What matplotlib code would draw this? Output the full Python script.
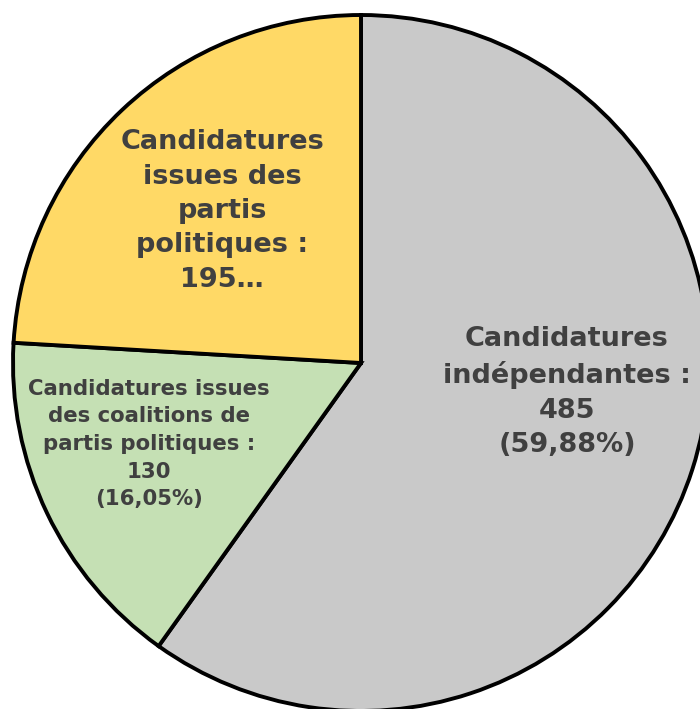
import matplotlib
matplotlib.use("Agg")
import matplotlib.pyplot as plt

categories = ["Candidatures indépendantes", "Candidatures issues des coalitions de partis politiques",
              "Candidatures issues des partis politiques"]
values = [485, 130, 195]
labels = ["Candidatures\nindépendantes :\n485\n(59,88%)",
          "Candidatures issues\ndes coalitions de\npartis politiques :\n130\n(16,05%)",
          "Candidatures\nissues des\npartis\npolitiques :\n195…"]
colors = ["#C9C9C9", "#C5E0B4", "#FFD966"]

fig = plt.figure(figsize=(7.0, 7.09), dpi=100)
ax = fig.add_axes([0, 0, 1, 1])

cx, cy, r = 361, 346, 348
ax.pie(values, colors=colors, startangle=90, counterclock=False,
       radius=r, center=(cx, cy), frame=True,
       wedgeprops=dict(edgecolor="black", linewidth=2.8, joinstyle="miter"))
ax.set_xlim(0, 700)
ax.set_ylim(0, 709)
ax.set_aspect("equal")
ax.axis("off")

txt = "#404040"
ax.text(567, 317, labels[0], ha="center", va="center", fontsize=19.5, fontweight="bold",
        color=txt, linespacing=1.42, family="DejaVu Sans")
ax.text(149, 265, labels[1], ha="center", va="center", fontsize=15.3, fontweight="bold",
        color=txt, linespacing=1.47, family="DejaVu Sans")
ax.text(222, 498, labels[2], ha="center", va="center", fontsize=19.5, fontweight="bold",
        color=txt, linespacing=1.42, family="DejaVu Sans")

fig.savefig("out.png", dpi=100)
